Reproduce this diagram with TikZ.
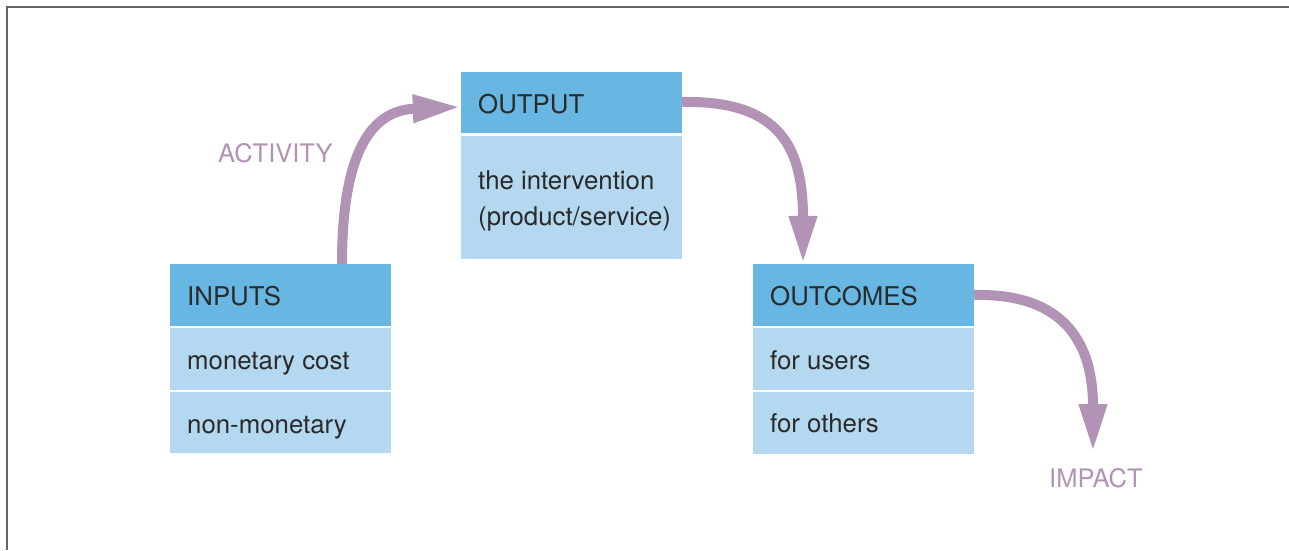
\documentclass[tikz,border=0pt]{standalone}
\usepackage{fontspec}
\setmainfont{TeX Gyre Heros}
\usetikzlibrary{arrows.meta}
\definecolor{hdrblue}{HTML}{67B7E2}
\definecolor{bodyblue}{HTML}{B4D8EF}
\definecolor{txtdark}{HTML}{2A2A2A}
\definecolor{arrpurple}{HTML}{B293B5}
\definecolor{framegray}{HTML}{666666}
\tikzset{
  hdr/.style={fill=hdrblue, draw=none, minimum width=221pt, inner sep=0pt},
  bodyrow/.style={fill=bodyblue, draw=none, minimum width=221pt, inner sep=0pt},
  boxtext/.style={anchor=base west, inner sep=0pt, text=txtdark, font=\fontsize{25.8}{30}\selectfont},
  flowlabel/.style={anchor=base west, inner sep=0pt, text=arrpurple, font=\fontsize{25.5}{30}\selectfont},
  flowarrow/.style={draw=arrpurple, line width=10pt, -{Triangle[length=48pt,width=26pt]}}
}
\begin{document}
\begin{tikzpicture}[x=1pt,y=-1pt]
\useasboundingbox (0,0) rectangle (1289,550);
% frame
\draw[framegray, line width=2pt] (7,550) -- (7,7) -- (1289,7);
% INPUTS
\node[hdr, minimum height=62pt] (inh) at (280.5,295) {};
\node[bodyrow, minimum height=62pt] (inr1) at (280.5,359) {};
\node[bodyrow, minimum height=61pt] (inr2) at (280.5,422.5) {};
\node[boxtext] (inht) at (187,305) {INPUTS};
\node[boxtext] (inr1t) at (187,369) {monetary cost};
\node[boxtext] (inr2t) at (187,433) {non-monetary};
% OUTPUT
\node[hdr, minimum height=61pt] (outh) at (571.5,102.5) {};
\node[bodyrow, minimum height=123pt] (outb) at (571.5,197.5) {};
\node[boxtext] (outht) at (478,113) {OUTPUT};
\node[boxtext] (outb1) at (478,189) {the intervention};
\node[boxtext] (outb2) at (478,225.5) {(product/service)};
% OUTCOMES
\node[hdr, minimum height=62pt] (och) at (863.5,295) {};
\node[bodyrow, minimum height=62pt] (ocr1) at (863.5,359) {};
\node[bodyrow, minimum height=62pt] (ocr2) at (863.5,423) {};
\node[boxtext] (ocht) at (770,305) {OUTCOMES};
\node[boxtext] (ocr1t) at (770,369) {for users};
\node[boxtext] (ocr2t) at (770,432) {for others};
% labels
\node[flowlabel] (act) at (218,162) {ACTIVITY};
\node[flowlabel] (imp) at (1049,487) {IMPACT};
% arrows
\coordinate (impend) at (1093,452);
\draw[flowarrow] ([xshift=61.5pt]inh.north) .. controls (342,140) and (378,110) .. ([yshift=-4.5pt]outh.west);
\draw[flowarrow] ([yshift=0.5pt]outh.east) .. controls (782,100) and (803,150) .. ([xshift=-60.5pt]och.north);
\draw[flowarrow] (och.east) .. controls (1066,293) and (1093,345) .. (impend);
\end{tikzpicture}
\end{document}
